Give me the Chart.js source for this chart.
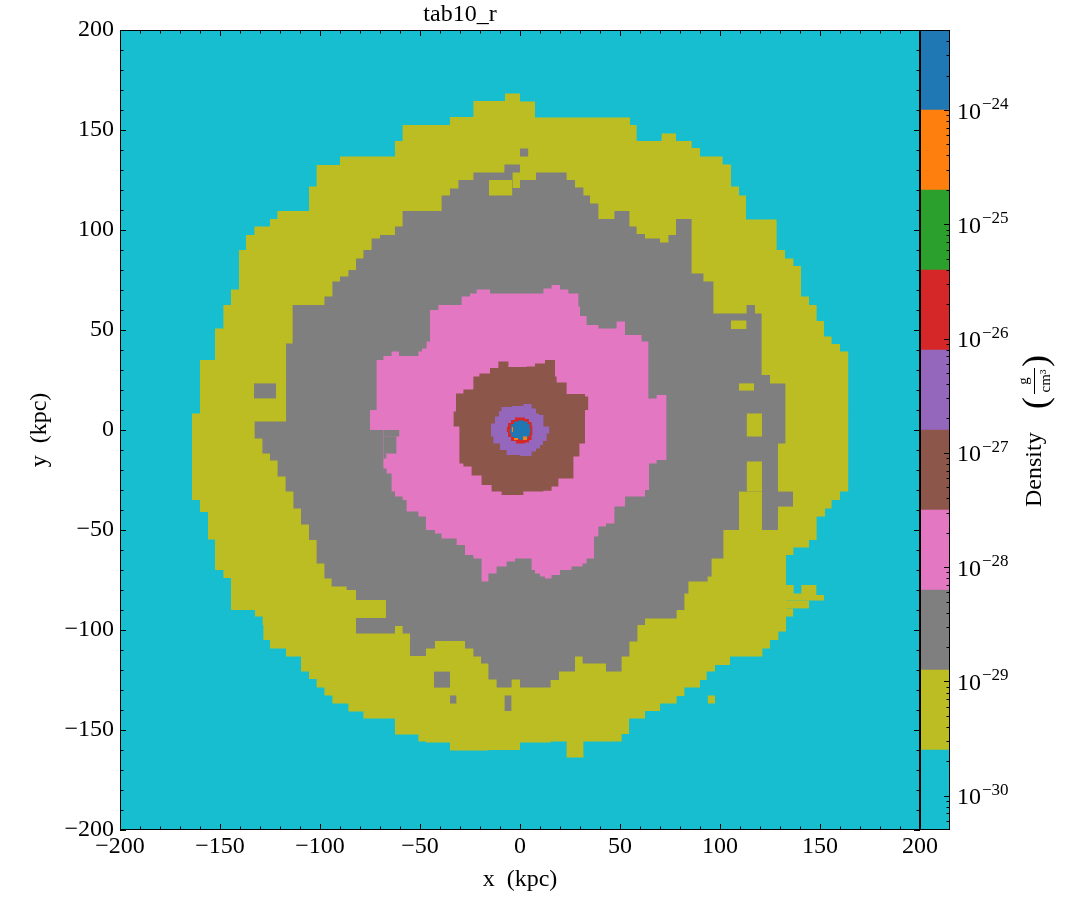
<!DOCTYPE html>
<html>
<head>
<meta charset="utf-8">
<title>tab10_r</title>
<script src="https://cdn.jsdelivr.net/npm/chart.js@4.4.1/dist/chart.umd.min.js"></script>
<style>
body { margin:0; background:#fff; }
#wrap { position:relative; width:1085px; height:920px; }
#main { position:absolute; left:0; top:0; }
#cbar { position:absolute; left:920px; top:0; }
</style>
</head>
<body>
<div id="wrap">
<canvas id="main" width="1085" height="920"></canvas>
<canvas id="cbar" width="165" height="920"></canvas>
</div>

<script>
// tick labels
var xTicks = [-200, -150, -100, -50, 0, 50, 100, 150, 200];
var yTicks = [-200, -150, -100, -50, 0, 50, 100, 150, 200];
var cbarTicks = [-30, -29, -28, -27, -26, -25, -24];
var cbarExponents = ['\u221230', '\u221229', '\u221228', '\u221227', '\u221226', '\u221225', '\u221224'];

// colour bar: log10 density band edges, tab10_r colours low -> high
var cbarEdges = [-30.3, -29.6, -28.9, -28.2, -27.5, -26.8, -26.1, -25.4, -24.7, -24.0, -23.3];
var cbarColors = ['#17becf', '#bcbd22', '#7f7f7f', '#e377c2', '#8c564b', '#9467bd', '#d62728', '#2ca02c', '#ff7f0e', '#1f77b4'];

// region edges in kpc, [x where the step starts, y]
var domainTop = [[-200, 200], [200, 200]];
var domainBottom = [[-200, -200], [200, -200]];

var oliveTop = [[-164, 8.3], [-160, 35], [-152.5, 50.8], [-148.3, 62.5], [-144.5, 70.3], [-140.5, 90], [-137, 97.5], [-132.8, 101.7], [-125, 105.5], [-121.3, 109.5], [-105.5, 121.7], [-101.7, 132.5], [-90, 136.7], [-62.5, 144.5], [-58.7, 152.5], [-35, 156.5], [-23.3, 164.5], [-7.5, 168.3], [0, 164.2], [7.5, 156.3], [55, 152.5], [58.3, 144.5], [70.8, 148.3], [78, 144.5], [85.8, 141], [90, 136.7], [101.3, 132.8], [105.5, 121.7], [109.5, 117.2], [113, 105.3], [128.3, 90], [132.5, 85.8], [136.7, 82], [140.5, 66.7], [144.5, 62.5], [148.3, 54.5], [152, 46.7], [155.8, 43], [160, 39.2], [164.2, 39.2]];
var oliveBottom = [[-164, -35], [-160, -41], [-156, -54.7], [-152.5, -70], [-148.3, -74], [-144.5, -90], [-132.5, -93.3], [-128.7, -97.5], [-128.3, -105], [-125, -109.2], [-117, -113.3], [-109.5, -120.8], [-105.5, -124.5], [-101.7, -128.8], [-97.8, -132.8], [-93.8, -136.7], [-85.8, -140.8], [-78.3, -144.3], [-62.5, -152.2], [-50.8, -155.8], [-47, -156.3], [-35, -160.3], [-15.8, -160], [0, -156.3], [15.3, -155.8], [23.3, -163.8], [31.7, -155.8], [50.8, -152], [54.5, -144.3], [62.5, -140.5], [70, -136.7], [78.3, -133], [82.2, -128.8], [90, -125], [93.3, -120.8], [97.5, -117.5], [105, -113.3], [121.2, -109.2], [125, -105], [129.2, -100.8], [133, -62.5], [136.7, -58.7], [144.5, -55], [148.3, -43.3], [152.5, -39.2], [155.8, -35], [160, -30.8], [164.2, -30.8]];

var grayTop = [[-132.8, 4.2], [-117, 43.3], [-113.7, 62.5], [-97.8, 66.7], [-93.8, 74.2], [-90, 76.7], [-85.8, 80], [-82, 85.8], [-78.3, 90], [-74.2, 95.8], [-70, 97.5], [-62.5, 101.7], [-58.7, 109.5], [-39.2, 117.2], [-35, 120.8], [-30.8, 125], [-23.3, 128.8], [-7.8, 132.8], [0, 125], [8, 128.8], [23.3, 125], [27.5, 121.2], [31.7, 117.2], [35, 113.3], [39.2, 105.5], [47.2, 109.5], [54.7, 101.7], [58.3, 98], [62.5, 95.8], [70, 93.8], [74.2, 97.5], [78, 105.5], [85.8, 78.3], [91.7, 74.2], [96.7, 58.3], [113.3, 62.5], [117.5, 58.3], [120.8, 27.5], [125, 23.3], [132.8, 23.3]];
var grayBottom = [[-132.8, -4.2], [-128.8, -11.7], [-125, -15.3], [-121.2, -23.3], [-117.2, -30.8], [-113.3, -39.2], [-109.5, -47.2], [-105.5, -55], [-101.7, -66.7], [-97.8, -74.2], [-94.2, -78.3], [-86.7, -80], [-82, -101.7], [-62.5, -98], [-58.7, -101.7], [-55, -113], [-47, -109.2], [-42.5, -105.5], [-27.5, -109.2], [-23.3, -113.3], [-19.5, -116.7], [-15.8, -124.7], [-11.7, -128.8], [-4.2, -124.7], [0, -128.8], [15.3, -125], [19.5, -120.8], [27.5, -113.3], [31.3, -116.7], [43, -120.8], [50.8, -113.3], [54.7, -105.8], [58.7, -97.5], [62.5, -94.2], [78.3, -90], [82.2, -81.7], [84.2, -75.8], [93.8, -73.3], [95.8, -64.2], [101.7, -50], [129, -6.7], [132.8, -6.7]];

var pinkTop = [[-75, 10], [-71.7, 35], [-68.3, 37], [-64.2, 39.2], [-60.5, 37], [-50.8, 39.2], [-49, 40.8], [-46.7, 44.2], [-45, 60], [-40.8, 62.5], [-29.2, 66.7], [-25, 68.3], [-21.7, 70.3], [-15, 68.3], [11.7, 70.8], [15.8, 72.5], [20, 70.3], [24.2, 68.3], [29.2, 61.7], [30, 57], [33.3, 52.5], [39.2, 50.8], [48.3, 54.2], [52.5, 47.5], [60.8, 44.2], [64.2, 15.8], [68.3, 17.5], [73.3, 17.5]];
var pinkBottom = [[-75, 0], [-68.3, -19.2], [-66.7, -21.7], [-64.2, -30.8], [-62.5, -33.3], [-58.7, -35], [-56.7, -40.8], [-50.8, -43.3], [-47, -50], [-42.5, -51.7], [-39.2, -54.2], [-31.7, -57.5], [-27.5, -62.5], [-23.3, -64.2], [-19.2, -75.8], [-15.8, -71.7], [-11.7, -68.3], [-6.7, -65.8], [-2.5, -64.2], [5.8, -70], [7.5, -71.7], [10, -73.3], [12.5, -74.2], [15.8, -72.5], [20, -70], [25.8, -68.3], [31.3, -66.7], [33.3, -64.2], [37, -53.3], [39.2, -48.3], [43, -46.7], [47.2, -38.3], [52.5, -33.3], [62.5, -30], [64.5, -16.7], [68.3, -15], [73.3, -15]];

var brownTop = [[-33.3, 9.2], [-32, 18.3], [-28.3, 20.3], [-23.3, 26.7], [-20.3, 28.3], [-15, 31], [-10.8, 34.2], [-5.8, 31.5], [3.3, 31.7], [7.5, 33.3], [12.5, 35], [17.5, 26.7], [18.3, 23.7], [23.3, 18], [32.5, 16.7], [34.2, 16.7]];
var brownBottom = [[-33.3, 1.7], [-30.3, -16.7], [-28.3, -18.3], [-24.2, -22.8], [-19.2, -27.5], [-14.2, -30.8], [-9.2, -32.5], [1.7, -30.8], [11.7, -30.4], [15.8, -28.3], [19.2, -24.2], [26.7, -13.3], [29.7, -6.7], [32.5, 10], [34.2, 10]];

var purpleTop = [[-14.5, 3.3], [-12.5, 6.7], [-10.5, 9.5], [-9.2, 11.5], [-4, 12], [1.7, 13], [5.8, 10.8], [8, 8.3], [9.5, 7.5], [11.7, 1.7], [14.7, 1.7]];
var purpleBottom = [[-14.5, -3.3], [-13.3, -6.7], [-10, -10], [-6.7, -12.5], [0, -13], [5.8, -10.8], [8, -9.2], [10, -7.5], [11.5, -5.5], [13.3, -1.7], [14.7, -1.7]];

var redTop = [[-6.7, 1.5], [-6, 3.5], [-4.5, 5], [-2.5, 6.2], [2.5, 5.5], [4.5, 4], [5.8, 2], [6.3, 2]];
var redBottom = [[-6.7, -1], [-6, -3.5], [-4.5, -5.5], [-2, -6.7], [2.5, -6.3], [4.5, -5], [5.8, -2.5], [6.3, -2.5]];

var blueTop = [[-5.2, 0.5], [-4.5, 3], [-3, 4.2], [-1, 4.8], [2, 4.3], [3.8, 3], [4.8, 1], [5.3, 1]];
var blueBottom = [[-5.2, -1.5], [-4.5, -3.5], [-3, -4.6], [0, -5], [2.5, -4.5], [4, -3], [4.8, -1.5], [5.3, -1.5]];

// small patches [x0, x1, y0, y1] in kpc
var oliveInGray = [[-15.5, -3.8, 117.2, 125], [-3.8, 0, 121, 128.8], [105.5, 113.3, 50.5, 54.7], [109.5, 117, 19.7, 23.3], [113.3, 121, -3.3, 8.3], [113.3, 121, -30.8, -15.8], [109.5, 121, -50, -30.8], [-82, -67, -94, -85]];
var grayInOlive = [[-133, -122, 15.8, 23.3], [0, 4.2, 136.7, 140.8], [-43, -35, -128.8, -120.8], [-35, -31.7, -136.7, -132.8], [-7.8, -4.2, -140.5, -132.8], [121, 136.5, -38.3, -30.8]];
var oliveOuter = [[133, 148.3, -82.5, -77.5], [133, 152, -85.3, -82.5], [133, 144.5, -89.2, -85.3], [133, 136.7, -93.3, -89.2], [93.8, 97.5, -136.7, -132.8]];
var cyanSpots = [[136.7, 140.8, -81.7, -77.5]];
var grayInPink = [[-68.3, -60.3, -3.3, 0], [-68.3, -61.7, -11.7, -3.3], [-68.3, -66.7, -14.2, -11.7]];
var orangeSpots = [[1.5, 3.5, -5, -3.2], [-3, -1, -5, -4], [-4.2, -3.4, -1, 1.5]];

var CYAN = cbarColors[0], OLIVE = cbarColors[1], GRAY = cbarColors[2], PINK = cbarColors[3],
    BROWN = cbarColors[4], PURPLE = cbarColors[5], RED = cbarColors[6], ORANGE = cbarColors[8], BLUE = cbarColors[9];

var serif = 'Liberation Serif';

// paint order, bottom first
var layers = [];
function addLayer(top, bottom, color) { layers.push({ top: top, bottom: bottom, color: color }); }
function addRects(list, color) {
	list.forEach(function (r) {
		addLayer([[r[0], r[3]], [r[1], r[3]]], [[r[0], r[2]], [r[1], r[2]]], color);
	});
}
addLayer(domainTop, domainBottom, CYAN);
addLayer(oliveTop, oliveBottom, OLIVE);
addRects(oliveOuter, OLIVE);
addRects(cyanSpots, CYAN);
addLayer(grayTop, grayBottom, GRAY);
addRects(oliveInGray, OLIVE);
addRects(grayInOlive, GRAY);
addLayer(pinkTop, pinkBottom, PINK);
addRects(grayInPink, GRAY);
addLayer(brownTop, brownBottom, BROWN);
addLayer(purpleTop, purpleBottom, PURPLE);
addLayer(redTop, redBottom, RED);
addLayer(blueTop, blueBottom, BLUE);
addRects(orangeSpots, ORANGE);

function toXY(arr) { return arr.map(function (p) { return { x: p[0], y: p[1] }; }); }

// dataset 0 is painted last, so push the top layer first
var datasets = [];
for (var i = layers.length - 1; i >= 0; i--) {
	var L = layers[i];
	datasets.push({ data: toXY(L.top), showLine: true, stepped: true, fill: '+1', backgroundColor: L.color, borderWidth: 0, borderColor: 'rgba(0,0,0,0)', pointRadius: 0 });
	datasets.push({ data: toXY(L.bottom), showLine: true, stepped: true, fill: false, borderWidth: 0, borderColor: 'rgba(0,0,0,0)', pointRadius: 0 });
}

function minusFmt(v) { return v < 0 ? '\u2212' + Math.abs(v) : String(v); }

// inward ticks on all four sides plus frame
var frameTicks = {
	id: 'frameTicks',
	afterDatasetsDraw: function (chart) {
		var ctx = chart.ctx, a = chart.chartArea, sx = chart.scales.x, sy = chart.scales.y;
		ctx.save();
		ctx.strokeStyle = '#000';
		ctx.lineWidth = 1;
		ctx.beginPath();
		for (var v = -200; v <= 200; v += 10) {
			var len = (v % 50 === 0) ? 6 : 3.5;
			var px = Math.round(sx.getPixelForValue(v)) + 0.5;
			var py = Math.round(sy.getPixelForValue(v)) + 0.5;
			ctx.moveTo(px, a.bottom); ctx.lineTo(px, a.bottom - len);
			ctx.moveTo(px, a.top); ctx.lineTo(px, a.top + len);
			ctx.moveTo(a.left, py); ctx.lineTo(a.left + len, py);
			ctx.moveTo(a.right, py); ctx.lineTo(a.right - len, py);
		}
		ctx.stroke();
		ctx.strokeRect(a.left + 0.5, a.top + 0.5, a.right - a.left - 1, a.bottom - a.top - 1);
		ctx.restore();
	}
};

var tickFont = { family: serif, size: 24 };

var chart = new Chart(document.getElementById('main').getContext('2d'), {
	type: 'scatter',
	data: { datasets: datasets },
	options: {
		responsive: false,
		animation: false,
		devicePixelRatio: 1,
		layout: { padding: { left: 0, right: 165, top: 0, bottom: 0 } },
		plugins: {
			legend: { display: false },
			tooltip: { enabled: false },
			title: { display: true, text: 'tab10_r', color: '#000', font: { family: serif, size: 24, weight: 'normal' }, padding: { top: 0, bottom: 1.2 } }
		},
		scales: {
			x: {
				type: 'linear', min: -200, max: 200,
				afterBuildTicks: function (s) { s.ticks = xTicks.map(function (v) { return { value: v }; }); },
				afterFit: function (s) { s.height = 90; },
				ticks: { callback: minusFmt, color: '#000', font: tickFont, padding: 2, maxRotation: 0, autoSkip: false },
				grid: { display: false, drawTicks: false },
				border: { display: false },
				title: { display: true, text: 'x  (kpc)', color: '#000', font: tickFont, padding: { top: 0, bottom: 25.6 } }
			},
			y: {
				type: 'linear', min: -200, max: 200,
				afterBuildTicks: function (s) { s.ticks = yTicks.map(function (v) { return { value: v }; }); },
				afterFit: function (s) { s.width = 120; },
				ticks: { callback: minusFmt, color: '#000', font: tickFont, padding: 6, autoSkip: false },
				grid: { display: false, drawTicks: false },
				border: { display: false },
				title: { display: true, text: 'y  (kpc)', color: '#000', font: tickFont, padding: { top: 25.6, bottom: 0 } }
			}
		}
	},
	plugins: [frameTicks]
});

// colour bar decorations: ticks, labels, title
var cbarDeco = {
	id: 'cbarDeco',
	afterDatasetsDraw: function (c) {
		var ctx = c.ctx, a = c.chartArea, sy = c.scales.y;
		ctx.save();
		ctx.strokeStyle = '#000';
		ctx.lineWidth = 1;
		ctx.beginPath();
		for (var n = -31; n <= -23; n++) {
			for (var k = 1; k <= 9; k++) {
				var lv = n + Math.log10(k);
				if (lv < cbarEdges[0] || lv > cbarEdges[cbarEdges.length - 1]) continue;
				var py = Math.round(sy.getPixelForValue(Math.pow(10, lv))) + 0.5;
				var len = k === 1 ? 6 : 3.5;
				ctx.moveTo(a.right, py); ctx.lineTo(a.right - len, py);
			}
		}
		ctx.stroke();
		ctx.strokeRect(a.left + 0.5, a.top + 0.5, a.right - a.left - 1, a.bottom - a.top - 1);

		ctx.fillStyle = '#000';
		ctx.textAlign = 'left';
		ctx.textBaseline = 'alphabetic';
		cbarTicks.forEach(function (t, i) {
			var py = sy.getPixelForValue(Math.pow(10, t));
			ctx.font = '24px "' + serif + '"';
			ctx.fillText('10', a.right + 7, py + 8.5);
			var w = ctx.measureText('10').width;
			ctx.font = '17px "' + serif + '"';
			ctx.fillText(cbarExponents[i], a.right + 7 + w + 1, py - 1);
		});

		// rotated label: Density (g / cm^3)
		ctx.translate(121, 507);
		ctx.rotate(-Math.PI / 2);
		ctx.font = '24px "' + serif + '"';
		ctx.fillText('Density', 0, 0);
		ctx.font = '36px "' + serif + '"';
		ctx.fillText('(', 98, 6);
		ctx.fillText(')', 140, 6);
		ctx.textAlign = 'center';
		ctx.font = '15px "' + serif + '"';
		ctx.fillText('g', 126, -13);
		ctx.fillText('cm\u00b3', 126, 9);
		ctx.beginPath();
		ctx.moveTo(113, -6.5); ctx.lineTo(139, -6.5);
		ctx.stroke();
		ctx.restore();
	}
};

var cbar = new Chart(document.getElementById('cbar').getContext('2d'), {
	type: 'bar',
	data: {
		labels: ['density'],
		datasets: cbarColors.map(function (col, i) {
			return { data: [[Math.pow(10, cbarEdges[i]), Math.pow(10, cbarEdges[i + 1])]], backgroundColor: col, borderWidth: 0, barPercentage: 1, categoryPercentage: 1, grouped: false };
		})
	},
	options: {
		responsive: false,
		animation: false,
		devicePixelRatio: 1,
		layout: { padding: { left: 0, right: 0, top: 30, bottom: 90 } },
		plugins: { legend: { display: false }, tooltip: { enabled: false } },
		scales: {
			x: { display: false },
			y: {
				type: 'logarithmic', position: 'right',
				min: Math.pow(10, cbarEdges[0]), max: Math.pow(10, cbarEdges[cbarEdges.length - 1]),
				afterFit: function (s) { s.width = 135; },
				ticks: { display: false },
				grid: { display: false, drawTicks: false },
				border: { display: false }
			}
		}
	},
	plugins: [cbarDeco]
});
</script>
</body>
</html>
